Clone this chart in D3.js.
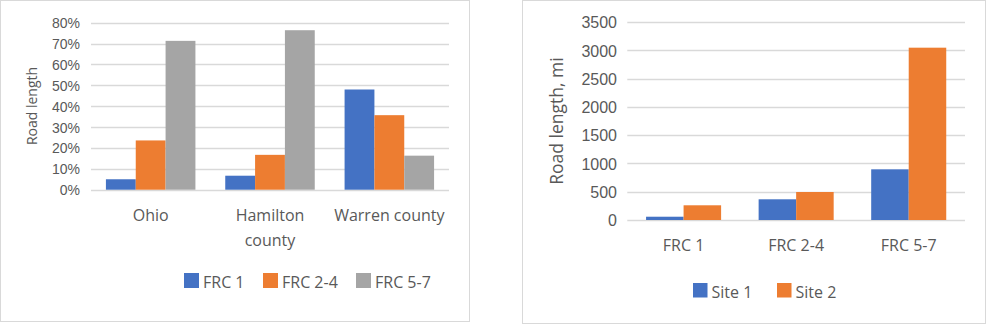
<!DOCTYPE html>
<html>
<head>
<meta charset="utf-8">
<script src="https://cdn.jsdelivr.net/npm/d3@7"></script>
<style>
  html, body { margin: 0; padding: 0; background: #fff; }
  svg { display: block; font-family: "Open Sans", "Noto Sans", sans-serif; }
</style>
</head>
<body>
<svg id="chart" width="986" height="324"></svg>
<script>
// Share of road length by functional road class, per area
const areaCategories = [["Ohio"], ["Hamilton", "county"], ["Warren county"]];
const areaSeries = ["FRC 1", "FRC 2-4", "FRC 5-7"];
const frc1Share = [0.050, 0.067, 0.480];
const frc24Share = [0.236, 0.167, 0.357];
const frc57Share = [0.713, 0.764, 0.163];
const shareTicks = [0, 0.1, 0.2, 0.3, 0.4, 0.5, 0.6, 0.7, 0.8];

// Road length in miles per road class, per site
const classCategories = ["FRC 1", "FRC 2-4", "FRC 5-7"];
const siteSeries = ["Site 1", "Site 2"];
const site1Miles = [58, 366, 896];
const site2Miles = [260, 495, 3046];
const mileTicks = [0, 500, 1000, 1500, 2000, 2500, 3000, 3500];

const palette = ["#4472C4", "#ED7D31", "#A5A5A5"];
const textColor = "#595959";
const gridColor = "#D9D9D9";

const svg = d3.select("#chart");

function drawPanel(cfg) {
  const g = svg.append("g");
  // chart frame
  g.append("rect")
    .attr("x", cfg.frame[0] + 0.5).attr("y", cfg.frame[1] + 0.5)
    .attr("width", cfg.frame[2] - 1).attr("height", cfg.frame[3] - 1)
    .attr("fill", "#fff").attr("stroke", gridColor).attr("stroke-width", 1);

  const x0 = d3.scaleBand().domain(d3.range(cfg.categories.length))
    .range([cfg.plot.left, cfg.plot.right]).paddingInner(0).paddingOuter(0);
  const n = cfg.series.length;
  const barW = x0.bandwidth() / (n + 1);
  const y = d3.scaleLinear().domain(cfg.domain).range([cfg.plot.bottom, cfg.plot.top]);

  // gridlines
  g.append("g").selectAll("line").data(cfg.ticks).join("line")
    .attr("x1", cfg.plot.left).attr("x2", cfg.plot.right)
    .attr("y1", d => Math.round(y(d)) + 0.5).attr("y2", d => Math.round(y(d)) + 0.5)
    .attr("stroke", gridColor).attr("stroke-width", 1.5);

  // y tick labels
  const yAxis = d3.axisLeft(y).tickValues(cfg.ticks).tickFormat(cfg.format).tickSize(0).tickPadding(0);
  const ya = g.append("g").attr("transform", `translate(${cfg.tickX},0)`).call(yAxis);
  ya.select(".domain").remove();
  ya.selectAll("text").attr("fill", textColor).style("font-size", cfg.tickSize + "px")
    .style("font-family", null).attr("dy", "0.36em");

  // bars
  cfg.series.forEach((name, si) => {
    g.append("g").selectAll("rect").data(cfg.values[si]).join("rect")
      .attr("x", (d, i) => x0(i) + barW / 2 + si * barW)
      .attr("width", barW)
      .attr("y", d => y(d))
      .attr("height", d => y(cfg.domain[0]) - y(d))
      .attr("fill", palette[si]);
  });

  // category labels
  const cats = g.append("g");
  cfg.categories.forEach((lines, i) => {
    const t = cats.append("text")
      .attr("x", x0(i) + x0.bandwidth() / 2).attr("y", cfg.catY)
      .attr("text-anchor", "middle").attr("fill", textColor)
      .style("font-size", cfg.catSize + "px");
    [].concat(lines).forEach((ln, k) => {
      t.append("tspan").attr("x", x0(i) + x0.bandwidth() / 2)
        .attr("dy", k === 0 ? 0 : cfg.catLine).text(ln);
    });
  });

  // axis title
  g.append("text")
    .attr("transform", `translate(${cfg.titleX},${cfg.titleY}) rotate(-90)`)
    .attr("text-anchor", "middle").attr("fill", textColor)
    .style("font-size", cfg.titleSize + "px").text(cfg.title);

  // legend
  const lg = g.append("g");
  cfg.series.forEach((name, si) => {
    const lx = cfg.legendX[si];
    lg.append("rect").attr("x", lx).attr("y", cfg.legendY - cfg.legendBox)
      .attr("width", cfg.legendBox).attr("height", cfg.legendBox).attr("fill", palette[si]);
    lg.append("text").attr("x", lx + cfg.legendBox + 4).attr("y", cfg.legendY)
      .attr("fill", textColor).style("font-size", cfg.legendSize + "px").text(name);
  });
}

drawPanel({
  frame: [0, 0, 470, 322],
  plot: { left: 91, right: 449, top: 22.7, bottom: 189.7 },
  categories: areaCategories,
  series: areaSeries,
  values: [frc1Share, frc24Share, frc57Share],
  domain: [0, 0.8],
  ticks: shareTicks,
  format: d3.format(".0%"),
  tickX: 80, tickSize: 14,
  catY: 221, catSize: 16, catLine: 25,
  title: "Road length", titleX: 37, titleY: 106, titleSize: 14,
  legendX: [184, 263, 356], legendY: 288, legendBox: 15, legendSize: 16
});

drawPanel({
  frame: [522, 0, 464, 324],
  plot: { left: 627.3, right: 965, top: 22, bottom: 220 },
  categories: classCategories.map(c => [c]),
  series: siteSeries,
  values: [site1Miles, site2Miles],
  domain: [0, 3500],
  ticks: mileTicks,
  format: d => String(d),
  tickX: 617, tickSize: 16,
  catY: 250.5, catSize: 16,
  title: "Road length, mi", titleX: 563, titleY: 121, titleSize: 17.5,
  legendX: [693, 777], legendY: 297.5, legendBox: 14.5, legendSize: 16
});
</script>
</body>
</html>
